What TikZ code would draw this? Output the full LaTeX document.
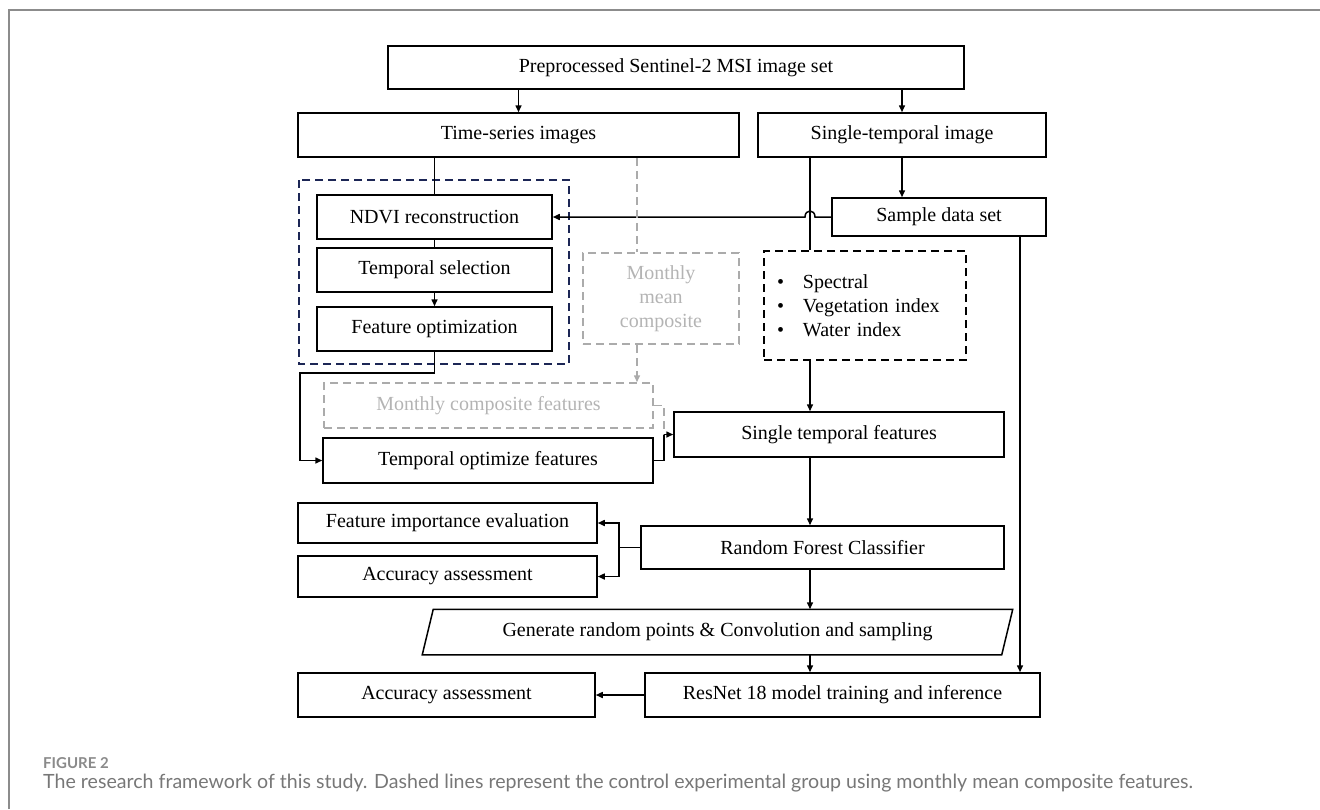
\documentclass[tikz,border=0pt]{standalone}
\usepackage{fontspec}
\setmainfont{Liberation Serif}
\newfontfamily\capfont{Lato}
\usetikzlibrary{arrows.meta,calc}
\definecolor{navy}{HTML}{1C2655}
\definecolor{lgray}{HTML}{ABABAB}
\definecolor{tgray}{HTML}{B4B4B4}
\definecolor{capgray}{HTML}{777777}
\definecolor{figgray}{HTML}{8A8A8A}
\definecolor{framegray}{HTML}{8C8C8C}
\begin{document}
\begin{tikzpicture}[x=1pt,y=-1pt,
  bx/.style={draw=black, line width=1.5pt, font=\fontsize{20}{24}\selectfont, inner sep=0pt, align=center},
  dbx/.style={bx, dash pattern=on 8pt off 5pt},
  gbx/.style={bx, draw=lgray, text=tgray, dash pattern=on 8pt off 5pt},
  ln/.style={draw=black, line width=1.5pt},
  arr/.style={ln, -{Triangle[length=7pt,width=6pt]}},
  garr/.style={draw=lgray, line width=1.5pt, dash pattern=on 8pt off 5pt, -{Triangle[length=7pt,width=6pt]}},
  gln/.style={draw=lgray, line width=1.5pt, dash pattern=on 8pt off 5pt},
  captxt/.style={anchor=base west, inner sep=0pt}
]
\useasboundingbox (0,0) rectangle (1320,809);
\draw[framegray, line width=2pt] (9,809) -- (9,10) -- (1320,10);

% blue dashed group
\draw[navy, line width=1.5pt, dash pattern=on 8pt off 5pt] (299,180) rectangle (569,364);

\node[bx, minimum width=576pt, minimum height=43pt] (top) at (676,67.5) {Preprocessed Sentinel-2 MSI image set};
\node[bx, minimum width=441pt, minimum height=44pt] (ts) at (518.5,135) {Time-series images};
\node[bx, minimum width=288pt, minimum height=44pt] (st) at (902,135) {Single-temporal image};
\node[bx, minimum width=235pt, minimum height=44pt] (ndvi) at (434.5,217) {NDVI reconstruction};
\node[bx, minimum width=235pt, minimum height=44pt] (tsel) at (434.5,270) {Temporal selection};
\node[bx, minimum width=235pt, minimum height=44pt] (fopt) at (434.5,329) {Feature optimization};
\node[bx, minimum width=214pt, minimum height=38pt] (sample) at (939,217) {Sample data set};
\node[dbx, minimum width=202pt, minimum height=109pt, text width=176pt, inner xsep=13pt, align=left] (feat) at (865,305.5)
  {\makebox[26pt][l]{\textbullet}Spectral\\\makebox[26pt][l]{\textbullet}Vegetation index\\\makebox[26pt][l]{\textbullet}Water index};
\node[gbx, minimum width=156pt, minimum height=91pt] (mmc) at (661,298.5) {Monthly\\mean\\composite};
\node[gbx, minimum width=329pt, minimum height=45pt] (mcf) at (488.5,405.5) {Monthly composite features};
\node[bx, minimum width=330pt, minimum height=45pt] (tof) at (488,460.5) {Temporal optimize features};
\node[bx, minimum width=330pt, minimum height=45pt] (stf) at (839,434.5) {Single temporal features};
\node[bx, minimum width=363pt, minimum height=43pt] (rf) at (822.5,547.5) {Random Forest Classifier};
\node[bx, minimum width=299pt, minimum height=40pt] (fi) at (447.5,523) {Feature importance evaluation};
\node[bx, minimum width=299pt, minimum height=41pt] (aa1) at (447.5,576.5) {Accuracy assessment};
\node[bx, draw=none, minimum width=578pt, minimum height=44pt] (para) at (717.5,632) {Generate random points \& Convolution and sampling};
\draw[ln, line join=miter] ([xshift=5.5pt]para.north west) -- ([xshift=5.5pt]para.north east) -- ([xshift=-5.5pt]para.south east) -- ([xshift=-5.5pt]para.south west) -- cycle;
\node[bx, minimum width=395pt, minimum height=44pt] (resnet) at (842.5,695) {ResNet 18 model training and inference};
\node[bx, minimum width=297pt, minimum height=44pt] (aa2) at (446.5,695) {Accuracy assessment};

\coordinate (cx) at (810,0);
\coordinate (rx) at (1020,0);
\coordinate (bx) at (619,0);
\coordinate (gx) at (637,0);
\coordinate (k1) at (300,373);
\coordinate (j) at (664,434.5);

% connectors
\draw[arr] (ts.north |- top.south) -- (ts.north);
\draw[arr] (st.north |- top.south) -- (st.north);
\draw[ln] (ndvi.north |- ts.south) -- (ndvi.north);
\draw[ln] (ndvi.south) -- (tsel.north);
\draw[arr] (tsel.south) -- (fopt.north);
\draw[arr] (st.south) -- (st.south |- sample.north);
\draw[ln] (st.south -| cx) -- (feat.north -| cx);
\draw[arr] (sample.west) -- ($(cx |- sample.west)+(5,0)$) .. controls ($(cx |- sample.west)+(5,-8)$) and ($(cx |- sample.west)+(-5,-8)$) .. ($(cx |- sample.west)+(-5,0)$) -- (ndvi.east);
\draw[gln] (ts.south -| gx) -- (mmc.north -| gx);
\draw[garr] (mmc.south -| gx) -- (mcf.north -| gx);
\draw[arr] (fopt.south) |- (k1) |- (tof.west);
\draw[gln] (mcf.east) -| (j);
\draw[ln] (tof.east) -| (j);
\draw[arr] (j) -- (stf.west);
\draw[arr] (feat.south -| cx) -- (stf.north -| cx);
\draw[arr] (stf.south -| cx) -- (rf.north -| cx);
\draw[ln] (rf.west) -- (rf.west -| bx);
\draw[arr] (rf.west -| bx) |- (fi.east);
\draw[arr] (rf.west -| bx) |- (aa1.east);
\draw[arr] (rf.south -| cx) -- (para.north -| cx);
\draw[arr] (para.south -| cx) -- (resnet.north -| cx);
\draw[arr] (sample.south -| rx) -- (resnet.north -| rx);
\draw[arr] (resnet.west) -- (aa2.east);

% caption
\node[captxt, text=figgray, font=\capfont\bfseries\fontsize{15}{17}\selectfont] (figlab) at (43,768) {FIGURE 2};
\node[captxt, text=capgray, font=\capfont\fontsize{19.6}{23}\selectfont] (captext) at (43,788) {The research framework of this study. Dashed lines represent the control experimental group using monthly mean composite features.};
\end{tikzpicture}
\end{document}
